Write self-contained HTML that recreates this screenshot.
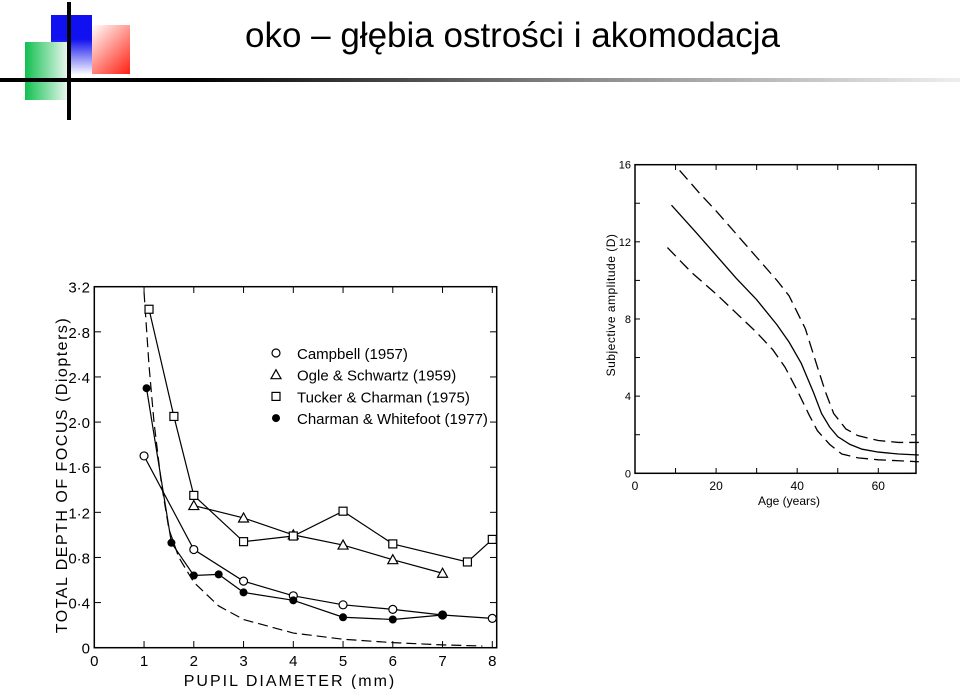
<!DOCTYPE html>
<html><head><meta charset="utf-8"><style>
body{margin:0;background:#fff;width:960px;height:689px;overflow:hidden;position:relative;font-family:"Liberation Sans",sans-serif}
.a{position:absolute}
</style></head><body>
<div class="a" style="left:51px;top:15px;width:41px;height:60px;background:linear-gradient(#1010f0 40%,#fff)"></div>
<div class="a" style="left:25px;top:42px;width:42px;height:58px;background:linear-gradient(90deg,#10c050,#e8f6ec)"></div>
<div class="a" style="left:92px;top:25px;width:38px;height:49px;background:linear-gradient(135deg,#fff,#ff2010)"></div>
<div class="a" style="left:0;top:78px;width:960px;height:4px;background:linear-gradient(90deg,#000 20%,#888 60%,#eee)"></div>
<div class="a" style="left:67px;top:2px;width:4px;height:118px;background:#000"></div>
<div class="a" style="left:245px;top:16px;font-size:35px;color:#000;font-family:'Liberation Sans','DejaVu Sans',sans-serif">oko – głębia ostrości i akomodacja</div>
<svg class="a" style="left:0;top:0" width="960" height="689" id="svg"></svg>
<script>
// Left chart data
const campX=[1,2,3,4,5,6,7,8], campY=[1.7,0.87,0.59,0.46,0.38,0.34,0.29,0.26];
const ogleX=[2,3,4,5,6,7], ogleY=[1.26,1.15,1.0,0.91,0.78,0.66];
const tuckX=[1.1,1.6,2,3,4,5,6,7.5,8], tuckY=[3.0,2.05,1.35,0.94,0.99,1.21,0.92,0.76,0.96];
const charX=[1.05,1.55,2,2.5,3,4,5,6,7], charY=[2.3,0.93,0.64,0.65,0.49,0.42,0.27,0.25,0.29];
const theoX=[1,1.1,1.2,1.35,1.5,1.7,2,2.5,3,4,5,6,7,7.8], theoY=[3.15,2.5,2.0,1.45,1.05,0.8,0.58,0.37,0.25,0.13,0.075,0.045,0.025,0.015];
const leftYTicks=["0","0·4","0·8","1·2","1·6","2·0","2·4","2·8","3·2"];
const leftXTicks=["0","1","2","3","4","5","6","7","8"];
const legendLabels=["Campbell (1957)","Ogle & Schwartz (1959)","Tucker & Charman (1975)","Charman & Whitefoot (1977)"];
// Right chart data
const ageMid=[9,15,20,25,30,35,38,41,44,46,48,50,53,56,60,65,70], ampMid=[13.9,12.5,11.3,10.1,9.0,7.7,6.8,5.7,4.2,3.1,2.4,1.9,1.5,1.25,1.1,1.0,0.95];
const ageUp=[11,16,20,25,30,35,38,42,45,47,49,52,55,60,65,70], ampUp=[15.7,14.5,13.6,12.4,11.2,10.0,9.2,7.5,5.5,4.2,3.1,2.3,1.95,1.7,1.6,1.6];
const ageLo=[8,14,20,25,30,34,37,40,43,45,48,51,55,60,65,70], ampLo=[11.7,10.4,9.3,8.3,7.3,6.4,5.5,4.3,3.0,2.2,1.5,1.0,0.8,0.7,0.65,0.6];
const rightYTicks=[0,4,8,12,16], rightXTicks=[0,20,40,60];

const NS="http://www.w3.org/2000/svg", svg=document.getElementById('svg');
function mk(t,a,txt){const e=document.createElementNS(NS,t);for(const k in a)e.setAttribute(k,a[k]);if(txt!=null)e.textContent=txt;svg.appendChild(e);return e;}
const lx=v=>94.3+v*49.75, ly=v=>647.7-v*(361/3.2);
const rx=v=>635+v*4.055, ry=v=>473.3-v*19.29;
const font='"Liberation Sans",sans-serif';
// left frame
let e=mk('rect',{x:94.3,y:286.7,width:402.4,height:361,fill:'none',stroke:'#000','stroke-width':1.5});

leftYTicks.forEach((t,i)=>{const v=i*0.4;
 mk('line',{x1:94.3,x2:101,y1:ly(v),y2:ly(v),stroke:'#000'});
 mk('line',{x1:496.7,x2:490,y1:ly(v),y2:ly(v),stroke:'#000'});
 e=mk('text',{x:90,y:ly(v)+6,'text-anchor':'end','font-size':15,'font-family':font},t);
 });
leftXTicks.forEach((t,i)=>{
 mk('line',{x1:lx(i),x2:lx(i),y1:647.7,y2:641,stroke:'#000'});
 mk('line',{x1:lx(i),x2:lx(i),y1:286.7,y2:293,stroke:'#000'});
 e=mk('text',{x:lx(i),y:666,'text-anchor':'middle','font-size':15,'font-family':font},t);
 });
e=mk('text',{x:290,y:686,'text-anchor':'middle','font-size':16,'letter-spacing':2,'font-family':font},'PUPIL DIAMETER (mm)');

e=mk('text',{x:0,y:0,transform:'translate(67,475) rotate(-90)','text-anchor':'middle','font-size':16,'letter-spacing':1.5,'font-family':font},'TOTAL DEPTH OF FOCUS (Diopters)');

// dashed theoretical
e=mk('polyline',{points:theoX.map((x,i)=>lx(x)+','+ly(theoY[i])).join(' '),fill:'none',stroke:'#000','stroke-width':1.2,'stroke-dasharray':'10,5'});

function series(X,Y,name,marker){
 e=mk('polyline',{points:X.map((x,i)=>lx(x)+','+ly(Y[i])).join(' '),fill:'none',stroke:'#000','stroke-width':1.2});
 
 X.forEach((x,i)=>{const cx=lx(x),cy=ly(Y[i]);drawMarker(marker,cx,cy);
  });
}
function drawMarker(m,cx,cy){
 if(m==='o')e=mk('circle',{cx,cy,r:4,fill:'#fff',stroke:'#000','stroke-width':1.2});
 else if(m==='f')e=mk('circle',{cx,cy,r:4,fill:'#000'});
 else if(m==='s')e=mk('rect',{x:cx-4,y:cy-4,width:8,height:8,fill:'#fff',stroke:'#000','stroke-width':1.2});
 else e=mk('polygon',{points:`${cx},${cy-5} ${cx-5},${cy+4} ${cx+5},${cy+4}`,fill:'#fff',stroke:'#000','stroke-width':1.2});
}
series(campX,campY,'campbell','o');
series(ogleX,ogleY,'ogle-schwartz','t');
series(tuckX,tuckY,'tucker-charman','s');
series(charX,charY,'charman-whitefoot','f');
['o','t','s','f'].forEach((m,i)=>{const y=353+i*21.7;drawMarker(m,276,y);
 
 e=mk('text',{x:297,y:y+6,'font-size':15,'font-family':font},legendLabels[i]);
 });
// right chart
e=mk('rect',{x:635,y:164.7,width:281,height:308.6,fill:'none',stroke:'#000','stroke-width':1.5});

for(let v=0;v<=16;v+=2){mk('line',{x1:635,x2:640,y1:ry(v),y2:ry(v),stroke:'#000'});mk('line',{x1:916,x2:911,y1:ry(v),y2:ry(v),stroke:'#000'});}
for(let v=0;v<=60;v+=10){mk('line',{x1:rx(v),x2:rx(v),y1:473.3,y2:468,stroke:'#000'});mk('line',{x1:rx(v),x2:rx(v),y1:164.7,y2:170,stroke:'#000'});}
rightYTicks.forEach(v=>{e=mk('text',{x:631,y:ry(v)+4,'text-anchor':'end','font-size':11,'font-family':font},String(v));
 });
rightXTicks.forEach(v=>{e=mk('text',{x:rx(v),y:490,'text-anchor':'middle','font-size':12,'font-family':font},String(v));
 });
e=mk('text',{x:789,y:505,'text-anchor':'middle','font-size':12,'font-family':font},'Age (years)');

e=mk('text',{x:0,y:0,transform:'translate(615,305) rotate(-90)','text-anchor':'middle','font-size':12,'letter-spacing':0.5,'font-family':font},'Subjective  amplitude (D)');

function curve(X,Y,name,dash){e=mk('polyline',{points:X.map((x,i)=>rx(x)+','+ry(Y[i])).join(' '),fill:'none',stroke:'#000','stroke-width':1.3,'stroke-dasharray':dash||'none'});
 }
curve(ageMid,ampMid,'mean-amplitude-curve');
curve(ageUp,ampUp,'upper-bound-dashed','12,6');
curve(ageLo,ampLo,'lower-bound-dashed','12,6');
</script>
</body></html>
